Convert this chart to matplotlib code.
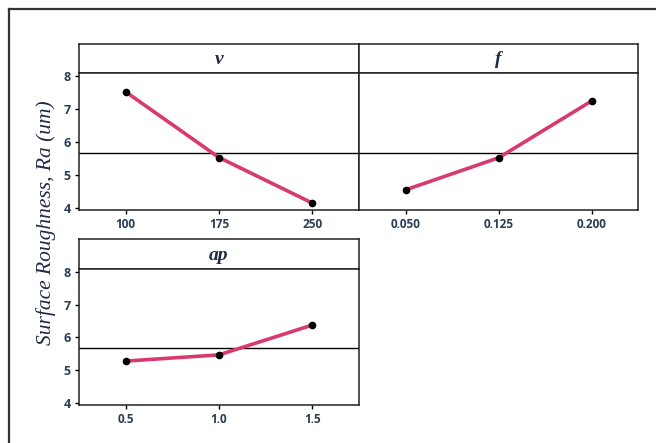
import matplotlib.pyplot as plt
from matplotlib.lines import Line2D

# main effects data
v_levels = ["100", "175", "250"]
v_means = [7.52, 5.53, 4.15]
f_levels = ["0.050", "0.125", "0.200"]
f_means = [4.55, 5.52, 7.24]
ap_levels = ["0.5", "1.0", "1.5"]
ap_means = [5.28, 5.47, 6.38]
grand_mean = 5.68
yticks = [4, 5, 6, 7, 8]

W, H = 656, 443
line_col = "#d93a6e"
tick_col = "#2e3b55"


def px(x0, y0, x1, y1):
    # pixel box -> figure fraction rect
    return [x0 / W, 1 - y1 / H, (x1 - x0) / W, (y1 - y0) / H]


fig = plt.figure(figsize=(6.56, 4.43), dpi=100)
fig.patch.set_facecolor("white")

# outer frame (only left & top visible in the scan)
fig.add_artist(Line2D([9 / W, 9 / W], [0, 1 - 9 / H], color="#333333", lw=1.6))
fig.add_artist(Line2D([9 / W, 1], [1 - 9 / H, 1 - 9 / H], color="#333333", lw=1.6))

panels = [
    ("v", v_levels, v_means, (79, 44, 359, 73, 210), True),
    ("f", f_levels, f_means, (359, 44, 638, 73, 210), False),
    ("ap", ap_levels, ap_means, (79, 239, 359, 269, 405), True),
]

for name, levels, means, (x0, ys, x1, yl, yb), show_y in panels:
    strip = fig.add_axes(px(x0, ys, x1, yl))
    strip.set_xticks([])
    strip.set_yticks([])
    strip.text(0.5, 0.45, name, ha="center", va="center", fontsize=14,
               family="Liberation Serif", style="italic", weight="bold",
               color="#1f2a44", transform=strip.transAxes)

    ax = fig.add_axes(px(x0, yl, x1, yb))
    xs = range(len(levels))
    ax.plot(xs, means, color=line_col, lw=2.6, zorder=2)
    ax.plot(xs, means, "o", color="black", ms=4.5, zorder=3)
    ax.axhline(grand_mean, color="black", lw=1.0, zorder=1)
    ax.set_xlim(-0.5, len(levels) - 0.5)
    ax.set_ylim(3.94, 8.09)
    ax.set_xticks(list(xs))
    ax.set_xticklabels(levels, fontsize=8.5, family="Open Sans", weight="bold", color=tick_col)
    ax.set_yticks(yticks)
    if show_y:
        ax.set_yticklabels([str(t) for t in yticks], fontsize=9, family="Open Sans",
                           weight="bold", color=tick_col)
    else:
        ax.tick_params(axis="y", left=False, labelleft=False)
    ax.tick_params(length=3, width=1, pad=3)
    for sp in list(ax.spines.values()) + list(strip.spines.values()):
        sp.set_linewidth(1.1)
        sp.set_color("#222222")

fig.text(46 / W, 1 - 223 / H, "Surface Roughness, Ra (um)", rotation=90,
         ha="center", va="center", fontsize=15.5, family="Liberation Serif",
         style="italic", color="#1f2a44")

fig.savefig("out.png", dpi=100)
